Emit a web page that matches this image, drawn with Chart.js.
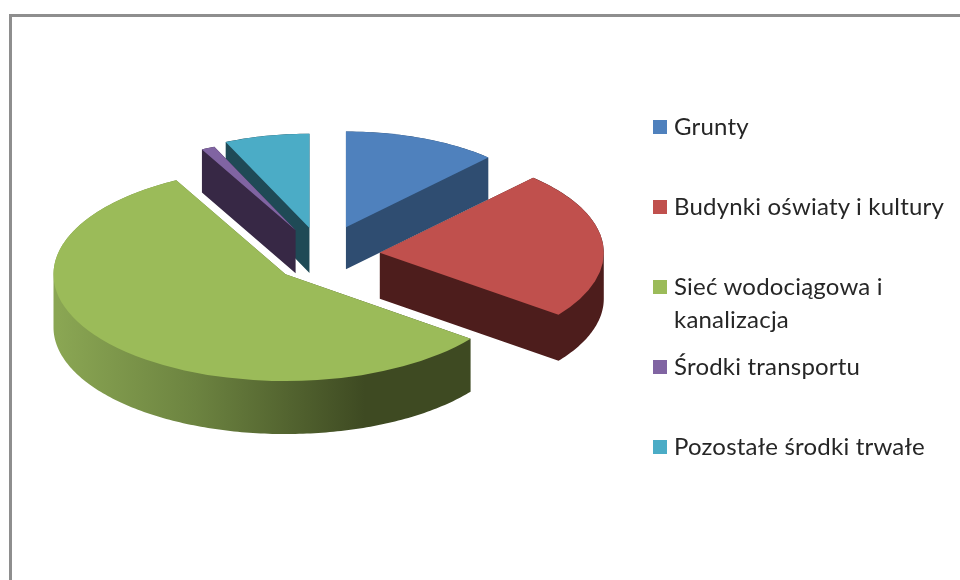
<!DOCTYPE html>
<html lang="pl">
<head>
  <meta charset="UTF-8" />
  <title>Struktura środków trwałych</title>
  <style>
    html, body { margin: 0; padding: 0; background: #fff; overflow: hidden; }
    #wrap { position: relative; width: 960px; height: 580px; overflow: hidden; }
    #frame {
      position: absolute; left: 9px; top: 14px;
      width: 980px; height: 600px;
      border: 3px solid #8e8e8e;
    }
    canvas { position: absolute; left: 0; top: 0; }
    #legend {
      position: absolute; left: 653px; top: 0;
      font-family: Lato, sans-serif; font-size: 24px; letter-spacing: 0.2px; color: #262626;
    }
    .item { position: absolute; left: 0; width: 300px; line-height: 33px; padding-left: 21px; white-space: nowrap; }
    .item i { position: absolute; left: 0; top: 11px; width: 14px; height: 14px; }
  </style>
</head>
<body>
<div id="wrap">
  <div id="frame"></div>
  <canvas id="pie" width="960" height="580"></canvas>
  <div id="legend"></div>
</div>

<script src="https://cdn.jsdelivr.net/npm/chart.js"></script>
<script>
  // Values (share in %)
  const categories = ['Grunty', 'Budynki oświaty i kultury', 'Sieć wodociągowa i\nkanalizacja', 'Środki transportu', 'Pozostałe środki trwałe'];
  const shares = [12, 23.3, 56.9, 1.1, 6.7];

  // Styles
  const topColors = ['#4f81bd', '#c0504d', '#9bbb59', '#8064a2', '#4bacc6'];
  const wallColors = ['#2f4d71', '#4d1d1c', null, '#372845', '#1f4a56'];
  const explode = [65, 58, 48, 60, 60];
  const sag = [0, 0, 5, 0, 0];
  const radii = [208, 224, 232, 199, 205];
  const depths = [42, 46, 53, 43, 45];
  const wallOrder = [0, 4, 3, 1, 2];
  const legendTops = [109, 189, 269, 349, 429];
  const squash = 0.46;

  function applySquash(chart) {
    const cy = (chart.chartArea.top + chart.chartArea.bottom) / 2;
    chart.ctx.translate(0, cy * (1 - squash));
    chart.ctx.scale(1, squash);
  }

  // Adds a shape to the path, always wound the same way so overlaps stay filled
  function addShape(ctx, pts) {
    let area = 0;
    pts.forEach((p, i) => {
      const q = pts[(i + 1) % pts.length];
      area += p[0] * q[1] - q[0] * p[1];
    });
    const list = area < 0 ? pts.slice().reverse() : pts;
    list.forEach((p, i) => i ? ctx.lineTo(p[0], p[1]) : ctx.moveTo(p[0], p[1]));
    ctx.closePath();
  }

  // Side wall of one slice: its outline swept straight down
  function wallPath(ctx, el, drop) {
    const outline = [[el.x, el.y]];
    const steps = Math.ceil((el.endAngle - el.startAngle) * 60);
    for (let s = 0; s <= steps; s++) {
      const a = el.startAngle + (el.endAngle - el.startAngle) * s / steps;
      outline.push([el.x + Math.cos(a) * el.outerRadius, el.y + Math.sin(a) * el.outerRadius]);
    }
    ctx.beginPath();
    addShape(ctx, outline.map(p => [p[0], p[1] + drop]));
    outline.forEach((p, i) => {
      const q = outline[(i + 1) % outline.length];
      addShape(ctx, [p, q, [q[0], q[1] + drop], [p[0], p[1] + drop]]);
    });
  }

  // Pulls slices apart, squashes the pie and draws the side walls under it
  const pie3d = {
    id: 'pie3d',
    afterDatasetUpdate(chart, args) {
      chart.getDatasetMeta(args.index).data.forEach((el, i) => {
        const mid = (el.startAngle + el.endAngle) / 2;
        el.x += Math.cos(mid) * explode[i];
        el.y += Math.sin(mid) * explode[i] + sag[i] / squash;
        el.outerRadius = radii[i];
      });
    },
    beforeDatasetDraw(chart, args) {
      const ctx = chart.ctx;
      const arcs = chart.getDatasetMeta(args.index).data;
      ctx.save();
      applySquash(chart);
      const greenWall = ctx.createLinearGradient(58, 0, 365, 0);
      greenWall.addColorStop(0, '#8aa653');
      greenWall.addColorStop(0.45, '#6c8340');
      greenWall.addColorStop(1, '#3e4a22');
      wallOrder.forEach(i => {
        ctx.fillStyle = wallColors[i] || greenWall;
        wallPath(ctx, arcs[i], depths[i] / squash);
        ctx.fill();
      });
    },
    afterDatasetDraw(chart) {
      chart.ctx.restore();
    }
  };

  new Chart(document.getElementById('pie').getContext('2d'), {
    type: 'pie',
    data: {
      labels: categories,
      datasets: [{
        data: shares,
        backgroundColor: topColors,
        borderWidth: 0
      }]
    },
    options: {
      responsive: false,
      animation: false,
      radius: 240,
      layout: { padding: { right: 316, bottom: 70 } },
      plugins: { legend: { display: false }, tooltip: { enabled: false } }
    },
    plugins: [pie3d]
  });

  // Legend
  const legend = document.getElementById('legend');
  categories.forEach((name, i) => {
    const row = document.createElement('div');
    row.className = 'item';
    row.style.top = legendTops[i] + 'px';
    const mark = document.createElement('i');
    mark.style.background = topColors[i];
    row.appendChild(mark);
    name.split('\n').forEach((line, n) => {
      if (n) row.appendChild(document.createElement('br'));
      row.appendChild(document.createTextNode(line));
    });
    legend.appendChild(row);
  });
</script>
</body>
</html>
